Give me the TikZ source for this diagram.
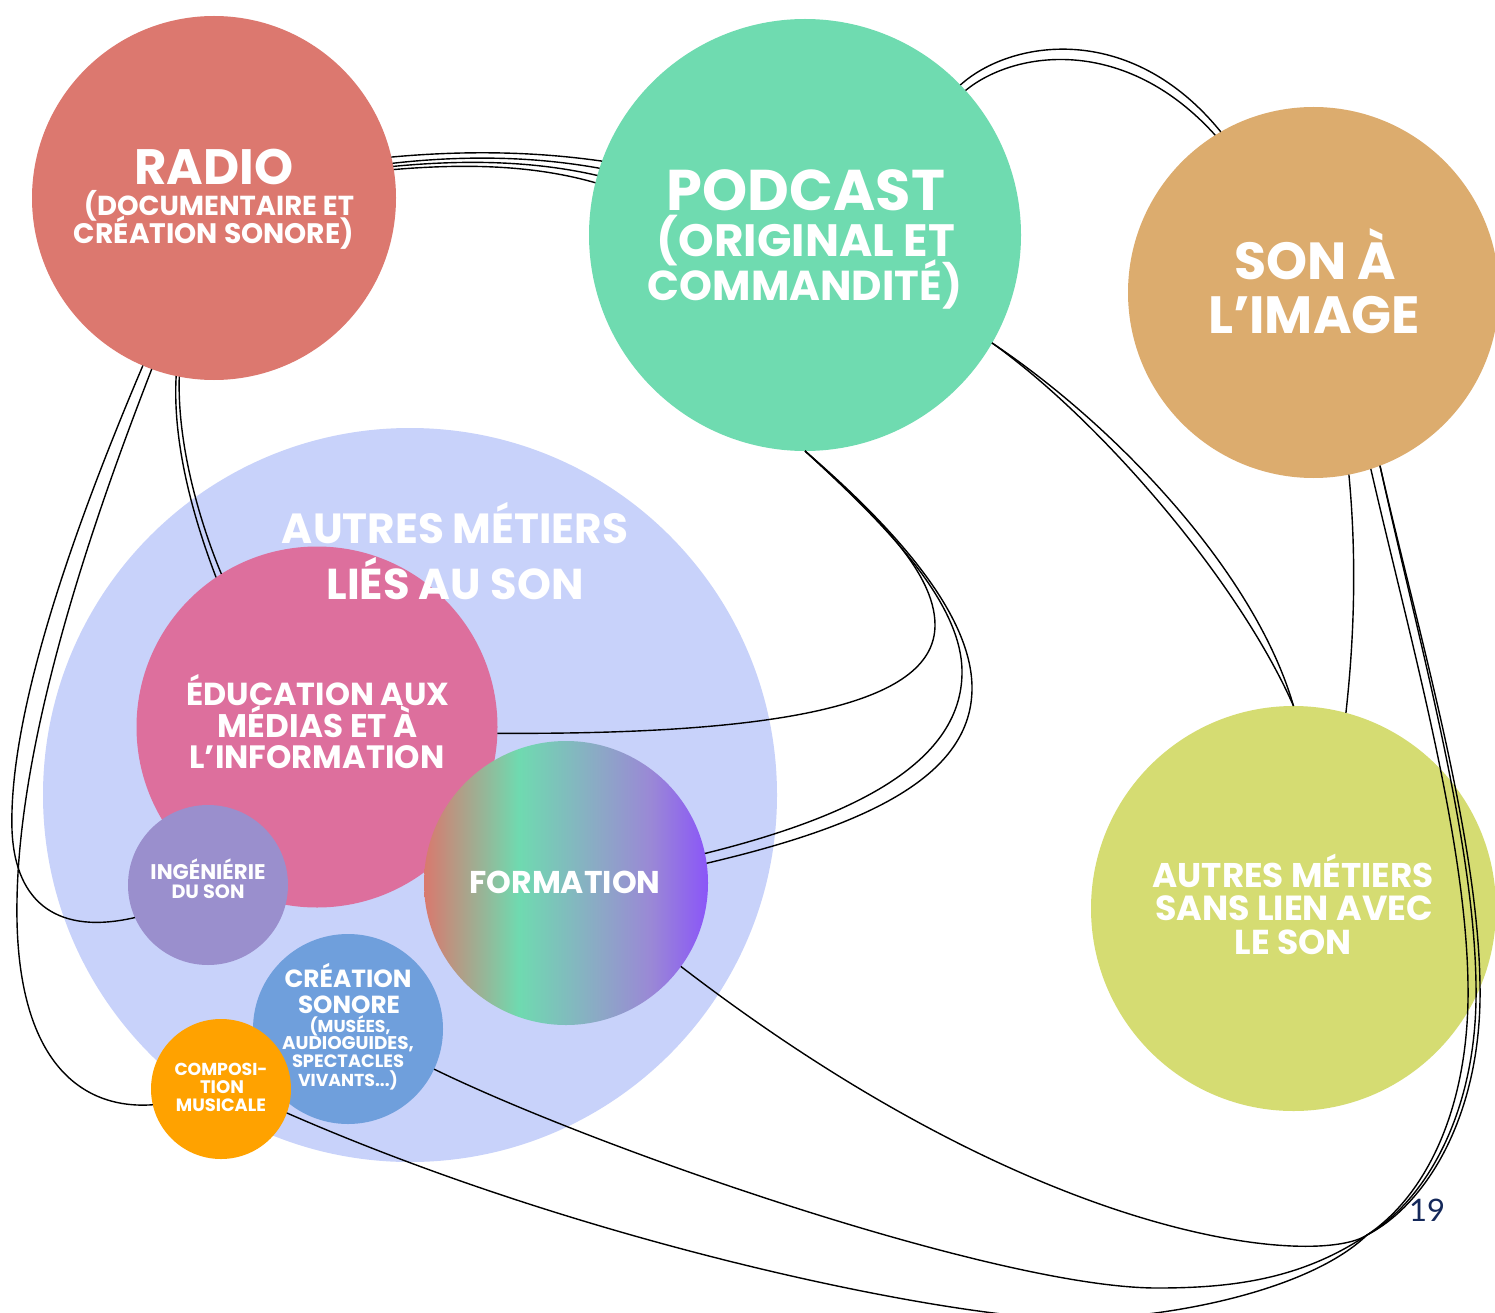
\documentclass[tikz,border=0pt]{standalone}
\usepackage{fontspec}
\usepackage{graphicx}
\newfontfamily\pop{Poppins}
\newfontfamily\lato{Lato}
\definecolor{cradio}{HTML}{DC786F}
\definecolor{cpod}{HTML}{6FDBB0}
\definecolor{cson}{HTML}{DCAC6E}
\definecolor{clav}{HTML}{C8D2FA}
\definecolor{cedu}{HTML}{DD6F9D}
\definecolor{cing}{HTML}{9A8FCD}
\definecolor{ccre}{HTML}{6F9FDC}
\definecolor{ccomp}{HTML}{FFA200}
\definecolor{csans}{HTML}{D5DC72}
\definecolor{cnum}{HTML}{14285A}
\definecolor{gA}{HTML}{D9796E}
\definecolor{gB}{HTML}{6FDAB0}
\definecolor{gC}{HTML}{8CA8C6}
\definecolor{gD}{HTML}{9A88D6}
\definecolor{gE}{HTML}{8A55F8}
\pgfdeclarehorizontalshading{formshade}{100bp}{color(0bp)=(gA); color(25bp)=(gA); color(41.7bp)=(gB); color(56bp)=(gC); color(65bp)=(gD); color(75bp)=(gE); color(100bp)=(gE)}
\newcommand\fw[3]{\resizebox{#1pt}{!}{\fontsize{#2}{#2}\selectfont #3}}
\tikzset{
  bub/.style={circle, inner sep=0pt, outer sep=0pt, minimum size=#1},
  conn/.style={line width=1.4pt, black},
  lbl/.style={anchor=base, inner sep=0pt, text=white, font=\pop\bfseries},
}
\begin{document}
\begin{tikzpicture}[x=1pt,y=-1pt]
\useasboundingbox (0,0) rectangle (1495,1313);
\fill[white] (0,0) rectangle (1495,1313);

% circles
\node[bub=734pt, fill=clav] (lav) at (410,795) {};
\node[bub=364pt, fill=cradio] (radio) at (214,198) {};
\node[bub=432pt, fill=cpod] (podcast) at (805,235) {};
\node[bub=371pt, fill=cson] (sonimg) at (1313.5,292.5) {};
\node[bub=405pt, fill=csans] (sans) at (1293.5,908.5) {};
\node[bub=361pt, fill=cedu] (edu) at (317,727) {};
\node[bub=160pt, fill=cing] (ing) at (208,885) {};
\node[bub=284pt, shading=formshade] (form) at (566,883) {};
\node[bub=190pt, fill=ccre] (crea) at (348,1029) {};
\node[bub=140pt, fill=ccomp] (comp) at (221,1089) {};

% texts
\node[lbl] (tr1) at (214,185) {\fw{159}{47}{RADIO}};
\node[lbl] (tr2) at (219,216) {\fw{270}{24}{(DOCUMENTAIRE ET}};
\node[lbl] (tr3) at (214,244) {\fw{280}{24}{CRÉATION SONORE)}};
\node[lbl] (tp1) at (806,211) {\fw{278}{54}{PODCAST}};
\node[lbl] (tp2) at (806,257) {\fw{298}{38}{(ORIGINAL ET}};
\node[lbl] (tp3) at (805,301) {\fw{314}{38}{COMMANDITÉ)}};
\node[lbl] (ts1) at (1315,280) {\fw{162}{47}{SON À}};
\node[lbl] (ts2) at (1314,334) {\fw{212}{47}{L’IMAGE}};
\node[lbl] (tl1) at (455,543) {\fw{346}{43}{AUTRES MÉTIERS}};
\node[lbl] (tl2) at (455,599) {\fw{257}{43}{LIÉS AU SON}};
\node[lbl] (te1) at (318,705) {\fw{263}{30}{ÉDUCATION AUX}};
\node[lbl] (te2) at (318,737) {\fw{200}{30}{MÉDIAS ET À}};
\node[lbl] (te3) at (317,768) {\fw{255}{30}{L’INFORMATION}};
\node[lbl] (ti1) at (208,879) {\fw{115}{18}{INGÉNIÉRIE}};
\node[lbl] (ti2) at (208,898) {\fw{73}{18}{DU SON}};
\node[lbl] (tf1) at (565,893) {\fw{191}{30}{FORMATION}};
\node[lbl] (tc1) at (348,987) {\fw{127}{21}{CRÉATION}};
\node[lbl] (tc2) at (349,1013) {\fw{102}{21}{SONORE}};
\node[lbl] (tc3) at (350,1032) {\fw{81}{17}{(MUSÉES,}};
\node[lbl] (tc4) at (348,1049) {\fw{132}{17}{AUDIOGUIDES,}};
\node[lbl] (tc5) at (348,1067) {\fw{112}{17}{SPECTACLES}};
\node[lbl] (tc6) at (348,1086) {\fw{100}{17}{VIVANTS...)}};
\node[lbl] (tm1) at (221,1075) {\fw{93}{17}{COMPOSI-}};
\node[lbl] (tm2) at (222,1093) {\fw{44}{17}{TION}};
\node[lbl] (tm3) at (221,1111) {\fw{90}{17}{MUSICALE}};
\node[lbl] (tn1) at (1293,887) {\fw{281}{34}{AUTRES MÉTIERS}};
\node[lbl] (tn2) at (1294,920) {\fw{278}{34}{SANS LIEN AVEC}};
\node[lbl] (tn3) at (1293,954) {\fw{117}{34}{LE SON}};
\node[anchor=base, inner sep=0pt, text=cnum, font=\lato\fontsize{31}{31}\selectfont] (pnum) at (1427,1221) {19};

% connectors
% radio -> podcast
\draw[conn] (radio.13.5) .. controls (460,150.8) and (530,150.8) .. (podcast.160.9);
\draw[conn] (radio.11.6) .. controls (460,155.7) and (530,155.7) .. (podcast.162.2);
\draw[conn] (radio.10.6) .. controls (460,160) and (530,160) .. (podcast.164.7);
\draw[conn] (radio.9.4) .. controls (460,164) and (530,164) .. (podcast.166.3);
% radio -> education
\draw[conn] (radio.-102.6) .. controls (172,450) and (198,530) .. (edu.124.4);
\draw[conn] (radio.-101) .. controls (177,450) and (203,530) .. (edu.122.4);
% radio -> ingenierie
\draw[conn] (radio.-113.1) .. controls (90,490) and (8,700) .. (12,830) .. controls (15,905) and (60,935) .. (ing.-156.6);
% radio -> composition
\draw[conn] (radio.-110.4) .. controls (105,490) and (20,720) .. (17,900) .. controls (14,1060) and (80,1110) .. (comp.-167);
% podcast -> son a l'image
\draw[conn] (podcast.44.6) .. controls (1010,40) and (1130,20) .. (sonimg.120.5);
\draw[conn] (podcast.42.2) .. controls (1015,50) and (1125,35) .. (sonimg.122.6);
% podcast -> sans lien
\draw[conn] (podcast.-30) .. controls (1100,420) and (1238,580) .. (sans.90);
\draw[conn] (podcast.-30.5) .. controls (1115,425) and (1255,572) .. (sans.90);
% podcast -> education
\draw[conn] (podcast.-90) .. controls (870,510) and (935,570) .. (935,625) .. controls (935,700) and (800,735) .. (edu.-2.5);
% podcast -> formation
\draw[conn] (podcast.-90) .. controls (880,520) and (962,600) .. (962,672) .. controls (962,760) and (860,815) .. (form.12.1);
\draw[conn] (podcast.-90) .. controls (885,520) and (972,610) .. (972,688) .. controls (972,775) and (870,825) .. (form.8.9);
% son a l'image -> sans lien
\draw[conn] (sonimg.-79.1) .. controls (1357,560) and (1354,640) .. (sans.75.9);
% son a l'image -> formation, creation, composition
\draw[conn] (sonimg.-72.3) .. controls (1410,640) and (1470,850) .. (1468,1000) .. controls (1466,1120) and (1420,1200) .. (1367,1235) .. controls (1320,1266) and (1050,1250) .. (form.-36.4);
\draw[conn] (sonimg.-69.7) .. controls (1418,640) and (1478,850) .. (1476,1000) .. controls (1474,1120) and (1422,1203) .. (1367,1235) .. controls (1300,1280) and (1230,1288) .. (1157,1288) .. controls (1000,1288) and (600,1150) .. (crea.-25.8);
\draw[conn] (sonimg.-69.7) .. controls (1420,640) and (1482,850) .. (1480,1000) .. controls (1478,1120) and (1425,1205) .. (1367,1235) .. controls (1310,1290) and (1170,1319) .. (1070,1319) .. controls (960,1319) and (600,1250) .. (comp.-20.6);
\end{tikzpicture}
\end{document}
